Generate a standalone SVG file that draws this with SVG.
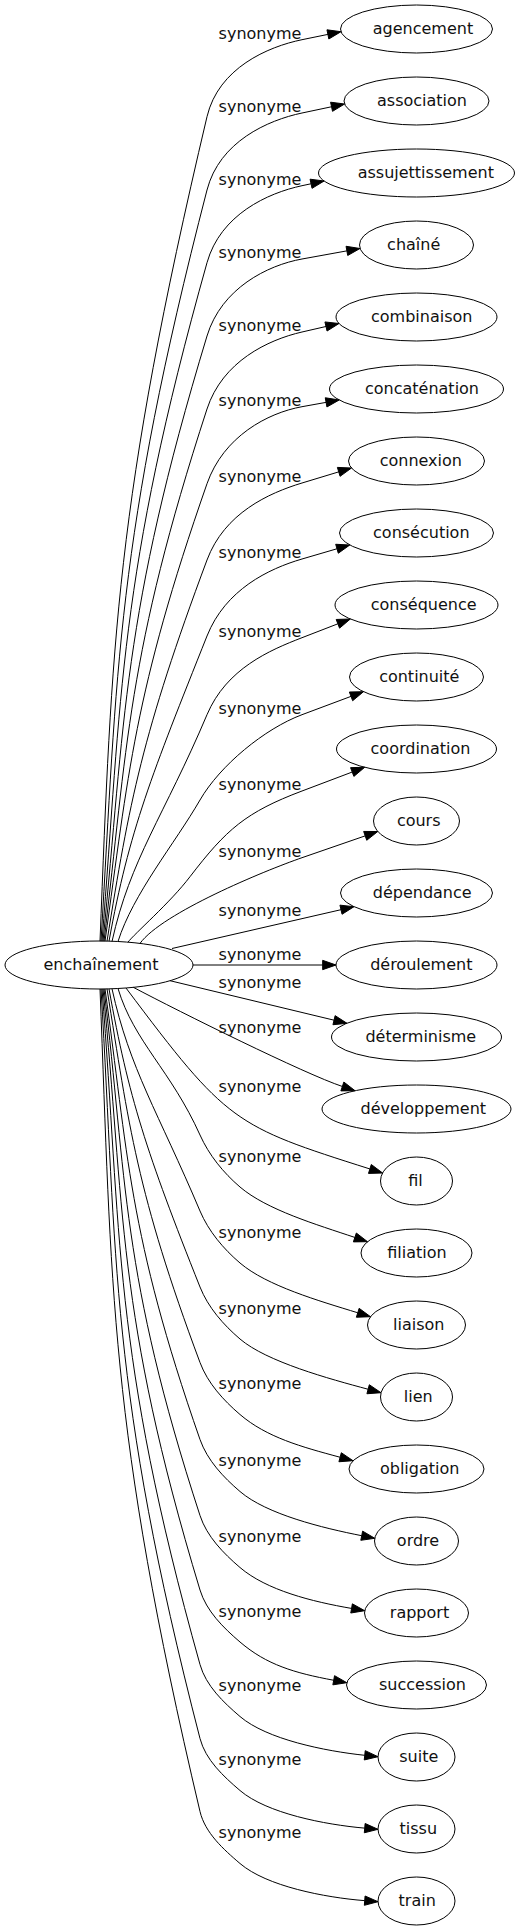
<svg xmlns="http://www.w3.org/2000/svg" width="520" height="1931" viewBox="0 0 520 1931">
<style>
.n ellipse{fill:none;stroke:#000;stroke-width:1}
text{font-family:"DejaVu Sans",Verdana,sans-serif;font-size:16px;fill:#111;text-anchor:middle}
.e path{fill:none;stroke:#000;stroke-width:1}
.e polygon{fill:#000;stroke:#000;stroke-width:1}
</style>
<rect width="520" height="1931" fill="#fff"/>
<g id="connectors" class="e">
<g id="e0"><path d="M100,941.2 C112,641.1 115,505.8 207,116.7 C218.5,68.05 267.7,46.74 302,39.7 L327.9,34.4"/><polygon points="341,31.7 328.84,38.98 326.96,29.82"/><text x="260" y="38.5">synonyme</text></g>
<g id="e1"><path d="M101,941.2 C117.4,667.8 115.9,542.6 207,190 C219.5,141.6 267.7,120.25 302,113 L331.55,106.76"/><polygon points="344.6,104 332.52,111.33 330.58,102.19"/><text x="260" y="111.8">synonyme</text></g>
<g id="e2"><path d="M102,941.2 C121.8,694.2 118.1,579.6 207,262.7 C220.5,214.55 267.8,192.98 302,185.7 L311.06,183.77"/><polygon points="324.1,181 312.03,188.34 310.09,179.2"/><text x="260" y="184.5">synonyme</text></g>
<g id="e3"><path d="M103,941.2 C125,720.9 121.9,616.9 207,336 C221.5,288.15 267.56,265.23 302,259 L346.88,250.87"/><polygon points="360,248.5 347.71,255.47 346.05,246.27"/><text x="260" y="257.8">synonyme</text></g>
<g id="e4"><path d="M104,941.2 C127.2,747.5 127,654.5 207,409 C222.5,361.45 267.88,339.84 302,332 L326,326.49"/><polygon points="339,323.5 327.05,331.04 324.95,321.94"/><text x="260" y="330.8">synonyme</text></g>
<g id="e5"><path d="M105,941.2 C128.3,774.7 133.8,693.2 207,483.7 C223.5,436.5 267.56,412.9 302,406.7 L326.08,402.36"/><polygon points="339.2,400 326.91,406.96 325.25,397.76"/><text x="260" y="405.5">synonyme</text></g>
<g id="e6"><path d="M107,941.2 C129.2,802.4 142.3,733.3 207,560 C224.5,513.15 268.5,493.15 302,483 L338.74,471.87"/><polygon points="351.5,468 340.09,476.34 337.39,467.4"/><text x="260" y="481.8">synonyme</text></g>
<g id="e7"><path d="M109,941.3 C129,830.2 152.2,773.6 207,636 C225.5,589.55 268.4,568.84 302,559 L337,548.75"/><polygon points="349.8,545 338.31,553.23 335.69,544.27"/><text x="260" y="557.8">synonyme</text></g>
<g id="e8"><path d="M112,941.5 C130.2,858.9 164.1,816 207,714.7 C226.5,668.65 269.4,650.3 302,637.7 L337.88,623.81"/><polygon points="350.3,619 339.57,628.16 336.19,619.46"/><text x="260" y="636.5">synonyme</text></g>
<g id="e9"><path d="M118,941.5 C133,893.8 175,843.3 200,800 C220,765.4 264.6,728.7 302,714.7 L351.02,696.37"/><polygon points="363.5,691.7 352.65,700.74 349.39,692"/><text x="260" y="713.5">synonyme</text></g>
<g id="e10"><path d="M128,942.2 C134,934 170,903 190,876.7 C226.5,829.1 245.9,812.2 302,791 L352.24,772.02"/><polygon points="364.7,767.3 353.89,776.39 350.59,767.65"/><text x="260" y="789.8">synonyme</text></g>
<g id="e11"><path d="M140,943.4 C162,913 264.2,870.8 302,857.7 L365.2,835.86"/><polygon points="377.8,831.5 366.73,840.27 363.67,831.45"/><text x="260" y="856.5">synonyme</text></g>
<g id="e12"><path d="M172,948.5 L341,909.7"/><polygon points="354,906.7 342.05,914.25 339.95,905.15"/><text x="260" y="916.3">synonyme</text></g>
<g id="e13"><path d="M193,965 L322.67,965"/><polygon points="336,965 322.67,969.67 322.67,960.33"/><text x="260" y="960">synonyme</text></g>
<g id="e14"><path d="M170,980.7 L334.04,1020.18"/><polygon points="347,1023.3 332.95,1024.72 335.13,1015.64"/><text x="260" y="988">synonyme</text></g>
<g id="e15"><path d="M133.3,987.3 C180,1012 304.44,1073.79 342.36,1086.47"/><polygon points="355,1090.7 340.88,1090.9 343.84,1082.04"/><text x="260" y="1033.3">synonyme</text></g>
<g id="e16"><path d="M126,988 C227.5,1123.3 233.9,1125.8 369.9,1168.96"/><polygon points="382.6,1173 368.49,1173.41 371.31,1164.51"/><text x="260" y="1092.3">synonyme</text></g>
<g id="e17"><path d="M118,988.5 C134,1041.8 170.9,1070.2 200,1135 C209,1155.1 223.3,1172.7 240,1187 C266.6,1209.8 316.94,1224.69 354.86,1237.45"/><polygon points="367.5,1241.7 353.37,1241.88 356.35,1233.02"/><text x="260" y="1161.8">synonyme</text></g>
<g id="e18"><path d="M112,988.8 C129.8,1069.7 158,1111.7 200,1211 C208.6,1231.3 223.3,1248.7 240,1263 C266.6,1285.8 319.52,1301.02 357.76,1312.78"/><polygon points="370.5,1316.7 356.39,1317.24 359.13,1308.32"/><text x="260" y="1237.8">synonyme</text></g>
<g id="e19"><path d="M109,988.9 C128.5,1097.4 146.5,1152.7 200,1287 C208.1,1307.4 223.3,1324.7 240,1339 C266.6,1361.8 329.48,1378.89 368.12,1389.25"/><polygon points="381,1392.7 366.91,1393.76 369.33,1384.74"/><text x="260" y="1313.8">synonyme</text></g>
<g id="e20"><path d="M107,988.9 C128.8,1124.9 136.6,1192.7 200,1362.5 C207.7,1383.1 223.3,1400.2 240,1414.5 C266.6,1437.3 301.48,1446.89 340.12,1457.25"/><polygon points="353,1460.7 338.91,1461.76 341.33,1452.74"/><text x="260" y="1389.3">synonyme</text></g>
<g id="e21"><path d="M105,989 C128,1153 127.9,1233.2 200,1439.5 C207.3,1460.3 223.3,1477.2 240,1491.5 C266.6,1514.3 322.48,1527.95 361.72,1535.71"/><polygon points="374.8,1538.3 360.81,1540.29 362.63,1531.13"/><text x="260" y="1466.3">synonyme</text></g>
<g id="e22"><path d="M104,989 C127,1180.6 120.8,1272.6 200,1515.5 C206.8,1536.4 223.3,1553.2 240,1567.5 C266.6,1590.3 312.17,1601.63 351.57,1608.43"/><polygon points="364.7,1610.7 350.78,1613.03 352.36,1603.83"/><text x="260" y="1542.3">synonyme</text></g>
<g id="e23"><path d="M103,989 C124.9,1207.8 115.5,1311 200,1590 C206.4,1611.1 223.3,1627.7 240,1642 C266.6,1664.8 294.38,1672.94 333.7,1680.26"/><polygon points="346.8,1682.7 332.85,1684.85 334.55,1675.67"/><text x="260" y="1616.8">synonyme</text></g>
<g id="e24"><path d="M102,989 C121.7,1234.9 111.5,1349 200,1664.5 C205.9,1685.7 223.3,1702.2 240,1716.5 C266.6,1739.3 324.94,1751.1 364.74,1755.3"/><polygon points="378,1756.7 364.25,1759.94 365.23,1750.66"/><text x="260" y="1691.3">synonyme</text></g>
<g id="e25"><path d="M101,989 C117.4,1261.8 109.1,1386.6 200,1738.5 C205.5,1759.8 223.3,1776.2 240,1790.5 C266.6,1813.3 324.88,1824.66 364.72,1828.14"/><polygon points="378,1829.3 364.31,1832.79 365.13,1823.49"/><text x="260" y="1765.3">synonyme</text></g>
<g id="e26"><path d="M100,989 C112,1288.4 108.3,1423.4 200,1811.5 C205.1,1832.9 223.3,1849.2 240,1863.5 C266.6,1886.3 324.83,1897.49 364.71,1900.65"/><polygon points="378,1901.7 364.34,1905.31 365.08,1895.99"/><text x="260" y="1838.3">synonyme</text></g>
</g>
<g class="n">
<g id="n-enchainement"><ellipse cx="99" cy="965" rx="94" ry="24"/><text x="101" y="970.3">enchaînement</text></g>
<g id="n0"><ellipse cx="416.5" cy="29" rx="76" ry="24"/><text x="423" y="34.3">agencement</text></g>
<g id="n1"><ellipse cx="416.5" cy="101" rx="72.5" ry="24"/><text x="422" y="106.3">association</text></g>
<g id="n2"><ellipse cx="416.5" cy="173" rx="98" ry="24"/><text x="425.8" y="178.3">assujettissement</text></g>
<g id="n3"><ellipse cx="416.5" cy="245" rx="57" ry="24"/><text x="413.7" y="250.3">chaîné</text></g>
<g id="n4"><ellipse cx="416.5" cy="317" rx="80.5" ry="24"/><text x="421.7" y="322.3">combinaison</text></g>
<g id="n5"><ellipse cx="416.5" cy="389" rx="87" ry="24"/><text x="422" y="394.3">concaténation</text></g>
<g id="n6"><ellipse cx="416.5" cy="461" rx="68" ry="24"/><text x="420.8" y="466.3">connexion</text></g>
<g id="n7"><ellipse cx="416.5" cy="533" rx="77" ry="24"/><text x="421.3" y="538.3">consécution</text></g>
<g id="n8"><ellipse cx="416.5" cy="605" rx="81.5" ry="24"/><text x="423.7" y="610.3">conséquence</text></g>
<g id="n9"><ellipse cx="416.5" cy="677" rx="67" ry="24"/><text x="419.3" y="682.3">continuité</text></g>
<g id="n10"><ellipse cx="416.5" cy="749" rx="80" ry="24"/><text x="420.5" y="754.3">coordination</text></g>
<g id="n11"><ellipse cx="416.5" cy="821" rx="43" ry="24"/><text x="418.7" y="826.3">cours</text></g>
<g id="n12"><ellipse cx="416.5" cy="893" rx="76" ry="24"/><text x="422.2" y="898.3">dépendance</text></g>
<g id="n13"><ellipse cx="416.5" cy="965" rx="80.5" ry="24"/><text x="421.3" y="970.3">déroulement</text></g>
<g id="n14"><ellipse cx="416.5" cy="1037" rx="85" ry="24"/><text x="420.8" y="1042.3">déterminisme</text></g>
<g id="n15"><ellipse cx="416.5" cy="1109" rx="94.5" ry="24"/><text x="423.3" y="1114.3">développement</text></g>
<g id="n16"><ellipse cx="416.5" cy="1181" rx="36" ry="24"/><text x="415.5" y="1186.3">fil</text></g>
<g id="n17"><ellipse cx="416.5" cy="1253" rx="55.5" ry="24"/><text x="417" y="1258.3">filiation</text></g>
<g id="n18"><ellipse cx="416.5" cy="1325" rx="49" ry="24"/><text x="418.8" y="1330.3">liaison</text></g>
<g id="n19"><ellipse cx="416.5" cy="1397" rx="36" ry="24"/><text x="418.3" y="1402.3">lien</text></g>
<g id="n20"><ellipse cx="416.5" cy="1469" rx="67.5" ry="24"/><text x="419.7" y="1474.3">obligation</text></g>
<g id="n21"><ellipse cx="416.5" cy="1541" rx="42" ry="24"/><text x="418" y="1546.3">ordre</text></g>
<g id="n22"><ellipse cx="416.5" cy="1613" rx="52" ry="24"/><text x="419.5" y="1618.3">rapport</text></g>
<g id="n23"><ellipse cx="416.5" cy="1685" rx="70" ry="24"/><text x="422.5" y="1690.3">succession</text></g>
<g id="n24"><ellipse cx="416.5" cy="1757" rx="38.5" ry="24"/><text x="418.8" y="1762.3">suite</text></g>
<g id="n25"><ellipse cx="416.5" cy="1829" rx="38.5" ry="24"/><text x="418.3" y="1834.3">tissu</text></g>
<g id="n26"><ellipse cx="416.5" cy="1901" rx="38.5" ry="24"/><text x="417.2" y="1906.3">train</text></g>
</g>
</svg>
